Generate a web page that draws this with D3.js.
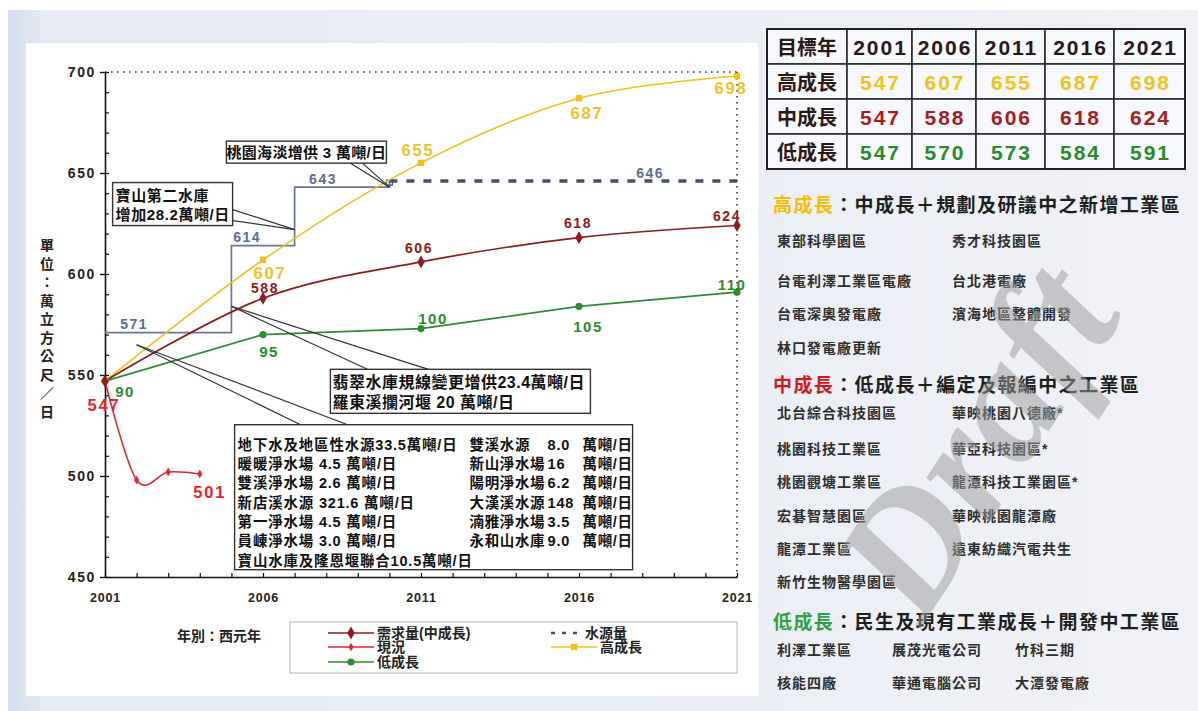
<!DOCTYPE html>
<html>
<head>
<meta charset="utf-8">
<script src="https://cdn.jsdelivr.net/npm/d3@7"></script>
<style>
  html, body { margin: 0; padding: 0; background: #ffffff; }
  svg { display: block; }
</style>
</head>
<body>
<svg id="chart" width="1198" height="711"></svg>
<script>
// ---- data ----
const years = [2001, 2006, 2011, 2016, 2021];
const highGrowth = [547, 607, 655, 687, 698];
const midGrowth = [547, 588, 606, 618, 624];
const lowGrowth = [547, 570, 573, 584, 591];
const lowGrowthTags = ["90", "95", "100", "105", "110"];
const actualYears = [2001, 2002, 2003, 2004];
const actualValues = [547, 498, 502, 501];
const supplyYears = [2001, 2005, 2007, 2010, 2021];
const supplyValues = [571, 614, 643, 646, 646];
const yTicks = [450, 500, 550, 600, 650, 700];
const xTicks = [2001, 2006, 2011, 2016, 2021];

const yTitle = "單位：萬立方公尺／日";
const xTitle = "年別：西元年";
const legendItems = ["需求量(中成長)", "現況", "低成長", "水源量", "高成長"];

const callouts = [
  { tip: [2010, 643], lines: ["桃園海淡增供 3 萬噸/日"] },
  { tip: [2007, 622], lines: ["寶山第二水庫", "增加28.2萬噸/日"] },
  { tip: [2005, 584], lines: ["翡翠水庫規線變更增供23.4萬噸/日", "羅東溪攔河堰 20 萬噸/日"] },
  { tip: [2002, 565], lines: [] }
];
const sourceLeft = [
  "地下水及地區性水源33.5萬噸/日",
  "暖暖淨水場 4.5 萬噸/日",
  "雙溪淨水場 2.6 萬噸/日",
  "新店溪水源 321.6 萬噸/日",
  "第一淨水場 4.5 萬噸/日",
  "員崠淨水場 3.0 萬噸/日",
  "寶山水庫及隆恩堰聯合10.5萬噸/日"
];
const sourceRightNames = ["雙溪水源", "新山淨水場", "陽明淨水場", "大漢溪水源", "湳雅淨水場", "永和山水庫"];
const sourceRightValues = ["8.0", "16", "6.2", "148", "3.5", "9.0"];
const sourceUnit = "萬噸/日";

const tableHead = "目標年";
const scenarioNames = ["高成長", "中成長", "低成長"];

const headingHigh = ["高成長", "：中成長＋規劃及研議中之新增工業區"];
const headingMid = ["中成長", "：低成長＋編定及報編中之工業區"];
const headingLow = ["低成長", "：民生及現有工業成長＋開發中工業區"];
const highItems = [["東部科學園區", "秀才科技園區"], ["台電利澤工業區電廠", "台北港電廠"], ["台電深奧發電廠", "濱海地區整體開發"], ["林口發電廠更新"]];
const midItems = [["北台綜合科技園區", "華映桃園八德廠*"], ["桃園科技工業區", "華亞科技園區*"], ["桃園觀塘工業區", "龍潭科技工業園區*"], ["宏碁智慧園區", "華映桃園龍潭廠"], ["龍潭工業區", "遠東紡織汽電共生"], ["新竹生物醫學園區"]];
const lowItems = [["利澤工業區", "展茂光電公司", "竹科三期"], ["核能四廠", "華通電腦公司", "大潭發電廠"]];
const watermark = "Draft";

// ---- styles ----
const FONT = "'Liberation Sans','Noto Sans CJK TC','Noto Sans CJK SC',sans-serif";
const C = {
  high: "#f0c01c", highText: "#f2c12a",
  mid: "#8e1b1d",
  low: "#2e8b2e",
  actual: "#e8232a",
  supply: "#6a7698", supplyText: "#5d6b92", supplyDash: "#434f6e",
  ink: "#222222"
};

const svg = d3.select("#chart");

// ---- background panels ----
const defs = svg.append("defs");
const bg = defs.append("linearGradient").attr("id", "bgGrad").attr("x1", "0").attr("x2", "1").attr("y1", "0").attr("y2", "0");
bg.append("stop").attr("offset", "0").attr("stop-color", "#d5dfee");
bg.append("stop").attr("offset", "0.03").attr("stop-color", "#e5eaf3");
bg.append("stop").attr("offset", "1").attr("stop-color", "#eff1f6");
svg.append("rect").attr("x", 8).attr("y", 10).attr("width", 1190).attr("height", 701).attr("fill", "url(#bgGrad)");
svg.append("rect").attr("x", 26).attr("y", 43).attr("width", 732).attr("height", 653).attr("fill", "#ffffff");

// ---- scales ----
const x = d3.scaleLinear().domain([2001, 2021]).range([105, 737]);
const y = d3.scaleLinear().domain([450, 700]).range([577, 72]);

// frame: dotted top and right edges
svg.append("line").attr("x1", x(2001)).attr("x2", x(2021)).attr("y1", y(700)).attr("y2", y(700))
  .attr("stroke", "#333").attr("stroke-width", 1.6).attr("stroke-dasharray", "1.6,4.4");
svg.append("line").attr("x1", x(2021)).attr("x2", x(2021)).attr("y1", y(700)).attr("y2", y(450))
  .attr("stroke", "#333").attr("stroke-width", 1.6).attr("stroke-dasharray", "1.6,4.4");

// ---- axes ----
const yAxis = svg.append("g").attr("transform", `translate(${x(2001)},0)`)
  .call(d3.axisLeft(y).tickValues(yTicks).tickSize(5).tickSizeOuter(0).tickPadding(4).tickFormat(d3.format("d")));
yAxis.select(".domain").attr("stroke", "#111").attr("stroke-width", 1.6);
yAxis.selectAll(".tick line").attr("stroke", "#111").attr("stroke-width", 1.4);
yAxis.selectAll(".tick text").attr("font-family", FONT).attr("font-weight", "bold")
  .attr("font-size", 14).attr("letter-spacing", 1.6).attr("fill", C.ink);

const yMinor = svg.append("g").attr("transform", `translate(${x(2001)},0)`)
  .call(d3.axisRight(y).tickValues(d3.range(450, 701, 10)).tickSize(4).tickFormat(""));
yMinor.select(".domain").remove();
yMinor.selectAll(".tick line").attr("stroke", "#111").attr("stroke-width", 1.2);

const xAxis = svg.append("g").attr("transform", `translate(0,${y(450)})`)
  .call(d3.axisBottom(x).tickValues(d3.range(2001, 2022)).tickSizeInner(-4).tickSizeOuter(0).tickPadding(16)
    .tickFormat(d => xTicks.includes(d) ? String(d) : ""));
xAxis.select(".domain").attr("stroke", "#111").attr("stroke-width", 1.6);
xAxis.selectAll(".tick line").attr("stroke", "#111").attr("stroke-width", 1.2);
xAxis.selectAll(".tick text").attr("font-family", FONT).attr("font-weight", "bold")
  .attr("font-size", 12.5).attr("letter-spacing", 0.8).attr("fill", C.ink);

// vertical y title, one glyph per row
svg.append("g").selectAll("text").data(Array.from(yTitle)).join("text")
  .attr("x", 47).attr("y", (d, i) => 245 + i * 18.5)
  .attr("text-anchor", "middle").attr("dominant-baseline", "central")
  .attr("font-family", FONT).attr("font-weight", "bold").attr("font-size", 14).attr("fill", C.ink)
  .text(d => d);

// ---- water supply step line ----
const straight = d3.line().x(d => x(d[0])).y(d => y(d[1]));
const stepped = d3.line().x(d => x(d[0])).y(d => y(d[1])).curve(d3.curveStepAfter);
const supplyPts = supplyYears.map((yr, i) => [yr, supplyValues[i]]);
svg.append("path").attr("d", stepped(supplyPts.slice(0, 4)))
  .attr("fill", "none").attr("stroke", C.supply).attr("stroke-width", 1.7);
svg.append("path").attr("d", straight(supplyPts.slice(3)))
  .attr("fill", "none").attr("stroke", C.supplyDash).attr("stroke-width", 3.5).attr("stroke-dasharray", "8,9");
svg.append("rect").attr("x", x(supplyYears[3]) - 3).attr("y", y(supplyValues[3]) - 1)
  .attr("width", 6).attr("height", 5).attr("fill", "none").attr("stroke", C.supplyDash).attr("stroke-width", 1.2);
// value labels sit above each level, at a fraction along its run
const supplyLabelFrac = [0.23, 0.25, 0.3, 0.75];
svg.append("g").selectAll("text").data(supplyPts.slice(0, 4)).join("text")
  .attr("x", (d, i) => x(d[0] + (supplyPts[i + 1][0] - d[0]) * supplyLabelFrac[i]))
  .attr("y", d => y(d[1]) - 3.5)
  .attr("text-anchor", "middle")
  .attr("font-family", FONT).attr("font-weight", "bold").attr("font-size", 14).attr("letter-spacing", 1.5)
  .attr("fill", C.supplyText).text(d => d[1]);

// ---- demand scenarios ----
const smooth = d3.line().x(d => x(d[0])).y(d => y(d[1])).curve(d3.curveCardinal.tension(0));
const series = [
  { vals: highGrowth, color: C.high, shape: "square", path: smooth },
  { vals: midGrowth, color: C.mid, shape: "diamond", path: smooth },
  { vals: lowGrowth, color: C.low, shape: "circle", path: straight }
];
const actualPts = actualYears.map((yr, i) => [yr, actualValues[i]]);
svg.append("path").attr("d", smooth(actualPts))
  .attr("fill", "none").attr("stroke", C.actual).attr("stroke-width", 1.6);

series.forEach(s => {
  const pts = years.map((yr, i) => [yr, s.vals[i]]);
  svg.append("path").attr("d", s.path(pts))
    .attr("fill", "none").attr("stroke", s.color).attr("stroke-width", s.shape === "square" ? 1.6 : 1.7);
});

function marker(g, shape, color, cx, cy) {
  if (shape === "square") {
    g.append("rect").attr("x", cx - 3.2).attr("y", cy - 3.2).attr("width", 6.4).attr("height", 6.4).attr("fill", color);
  } else if (shape === "circle") {
    g.append("circle").attr("cx", cx).attr("cy", cy).attr("r", 3.6).attr("fill", color);
  } else {
    const size = shape === "diamond" ? 48 : 22;
    g.append("path").attr("transform", `translate(${cx},${cy})`)
      .attr("d", d3.symbol(d3.symbolDiamond, size)()).attr("fill", color);
  }
}
const markers = svg.append("g");
actualPts.forEach(p => marker(markers, "small", C.actual, x(p[0]), y(p[1])));
[2, 0, 1].forEach(k => {
  const s = series[k];
  years.forEach((yr, i) => marker(markers, s.shape, s.color, x(yr), y(s.vals[i])));
});

// value labels
const labels = svg.append("g").attr("font-family", FONT).attr("font-weight", "bold")
  .attr("text-anchor", "middle").attr("dominant-baseline", "central");
const highOff = [null, [7, 13], [-3, -13], [8, 15], [-6, 12]];
const midOff = [null, [2, -10], [-2, -14], [-1, -15], [-10, -10]];
const lowOff = [[20, 10], [6, 17], [12, -10], [9, 20], [-5, -8]];
years.forEach((yr, i) => {
  if (highOff[i]) labels.append("text").attr("x", x(yr) + highOff[i][0]).attr("y", y(highGrowth[i]) + highOff[i][1])
    .attr("font-size", 16.5).attr("letter-spacing", 1.8).attr("fill", C.highText).text(highGrowth[i]);
  if (midOff[i]) labels.append("text").attr("x", x(yr) + midOff[i][0]).attr("y", y(midGrowth[i]) + midOff[i][1])
    .attr("font-size", 14).attr("letter-spacing", 1.5).attr("fill", C.mid).text(midGrowth[i]);
  labels.append("text").attr("x", x(yr) + lowOff[i][0]).attr("y", y(lowGrowth[i]) + lowOff[i][1])
    .attr("font-size", 15).attr("letter-spacing", 1.5).attr("fill", C.low).text(lowGrowthTags[i]);
});
const actualOff = [[-1, 24], null, null, [10, 18]];
actualPts.forEach((p, i) => {
  if (actualOff[i]) labels.append("text").attr("x", x(p[0]) + actualOff[i][0]).attr("y", y(p[1]) + actualOff[i][1])
    .attr("font-size", 16.5).attr("letter-spacing", 1.8).attr("fill", C.actual).text(p[1]);
});

// ---- callout boxes ----
// box geometry relative to the pointed-at spot: [dx, dy, w, h], wedge base points
const calloutLayout = [
  { box: [-163, -46, 160, 22], base: [[-39, -24], [-27, -24]] },
  { box: [-182, -47, 120, 43], base: [[-62, -20], [-62, -9]] },
  { box: [99, 63, 260, 44], base: [[136, 63], [197, 63]] },
  { box: [98, 80, 398, 145], base: [[164, 80], [211, 80]] }
];
const notes = svg.append("g");
callouts.forEach((c, i) => {
  const tx = x(c.tip[0]), ty = y(c.tip[1]);
  const L = calloutLayout[i];
  L.base.forEach(b => notes.append("line").attr("x1", tx).attr("y1", ty).attr("x2", tx + b[0]).attr("y2", ty + b[1])
    .attr("stroke", "#333").attr("stroke-width", 1.2));
  const bx = tx + L.box[0], by = ty + L.box[1];
  notes.append("rect").attr("x", bx).attr("y", by).attr("width", L.box[2]).attr("height", L.box[3])
    .attr("fill", "#fff").attr("stroke", "#333").attr("stroke-width", 1.4);
  c.box = [bx, by, L.box[2], L.box[3]];
});
const noteText = notes.append("g").attr("font-family", FONT).attr("font-weight", "bold")
  .attr("fill", "#111").attr("dominant-baseline", "central");
{
  const b = callouts[0].box;
  noteText.append("text").attr("x", b[0] + b[2] / 2).attr("y", b[1] + b[3] / 2).attr("text-anchor", "middle")
    .attr("font-size", 15).attr("letter-spacing", 0.3).text(callouts[0].lines[0]);
}
{
  const b = callouts[1].box;
  callouts[1].lines.forEach((t, j) => noteText.append("text").attr("x", b[0] + 3).attr("y", b[1] + 13 + j * 19)
    .attr("font-size", 15).attr("letter-spacing", 0.6).text(t));
}
{
  const b = callouts[2].box;
  callouts[2].lines.forEach((t, j) => noteText.append("text").attr("x", b[0] + 2).attr("y", b[1] + 13 + j * 20)
    .attr("font-size", 16).attr("letter-spacing", 0.5).text(t));
}
{
  const b = callouts[3].box;
  sourceLeft.forEach((t, j) => noteText.append("text").attr("x", b[0] + 3).attr("y", b[1] + 20 + j * 19.3)
    .attr("font-size", 14.5).attr("letter-spacing", 0.8).text(t));
  sourceRightNames.forEach((t, j) => {
    const yy = b[1] + 20 + j * 19.3;
    noteText.append("text").attr("x", b[0] + 235).attr("y", yy).attr("font-size", 14.5).attr("letter-spacing", 0.6).text(t);
    noteText.append("text").attr("x", b[0] + 313).attr("y", yy).attr("font-size", 14.5).attr("letter-spacing", 0.8).text(sourceRightValues[j]);
    noteText.append("text").attr("x", b[0] + 348).attr("y", yy).attr("font-size", 14.5).attr("letter-spacing", 0.6).text(sourceUnit);
  });
}

// ---- legend ----
svg.append("text").attr("x", 177).attr("y", 636).attr("dominant-baseline", "central")
  .attr("font-family", FONT).attr("font-weight", "bold").attr("font-size", 14).attr("fill", C.ink).text(xTitle);
const lg = svg.append("g");
lg.append("rect").attr("x", 290).attr("y", 622).attr("width", 447).attr("height", 51)
  .attr("fill", "#fff").attr("stroke", "#b5b5b5").attr("stroke-width", 1);
const legendSpec = [
  { x: 328, w: 46, y: 633, color: C.mid, shape: "diamond" },
  { x: 328, w: 46, y: 647, color: C.actual, shape: "small" },
  { x: 328, w: 46, y: 662, color: C.low, shape: "circle" },
  { x: 551, w: 29, y: 633, color: C.supplyDash, dash: true },
  { x: 551, w: 46, y: 647, color: C.high, shape: "square" }
];
legendSpec.forEach((s, i) => {
  const l = lg.append("line").attr("x1", s.x).attr("x2", s.x + s.w).attr("y1", s.y).attr("y2", s.y)
    .attr("stroke", s.color).attr("stroke-width", s.dash ? 2.5 : 1.7);
  if (s.dash) l.attr("stroke-dasharray", "4,7");
  else marker(lg, s.shape, s.color, s.x + s.w / 2, s.y);
  lg.append("text").attr("x", s.x + s.w + (i === 3 ? 5 : 3)).attr("y", s.y).attr("dominant-baseline", "central")
    .attr("font-family", FONT).attr("font-weight", "bold").attr("font-size", 14).attr("fill", C.ink)
    .text(legendItems[i]);
});

// ---- target-year table ----
const colX = [767, 847, 912, 976, 1045, 1114, 1185];
const rowY = [29, 64, 99, 134, 169];
const tbl = svg.append("g");
const rows = [
  { head: tableHead, vals: years, color: "#2a1818" },
  { head: scenarioNames[0], vals: highGrowth, color: "#f4c21c" },
  { head: scenarioNames[1], vals: midGrowth, color: "#a51d22" },
  { head: scenarioNames[2], vals: lowGrowth, color: "#2b8a2f" }
];
rows.forEach((r, ri) => {
  const cells = [r.head, ...r.vals];
  cells.forEach((v, ci) => {
    tbl.append("rect").attr("x", colX[ci]).attr("y", rowY[ri])
      .attr("width", colX[ci + 1] - colX[ci]).attr("height", rowY[ri + 1] - rowY[ri])
      .attr("fill", "#f7f8fb").attr("stroke", "#2b2b2b").attr("stroke-width", 1.6);
    tbl.append("text").attr("x", (colX[ci] + colX[ci + 1]) / 2 + (ci === 0 ? 0 : 1)).attr("y", (rowY[ri] + rowY[ri + 1]) / 2 + 1)
      .attr("text-anchor", "middle").attr("dominant-baseline", "central")
      .attr("font-family", FONT).attr("font-weight", "bold")
      .attr("font-size", ci === 0 ? 20 : 21).attr("letter-spacing", ci === 0 ? 0 : 2)
      .attr("fill", ci === 0 ? "#2a1818" : r.color).text(v);
  });
});
tbl.append("rect").attr("x", colX[0]).attr("y", rowY[0]).attr("width", colX[6] - colX[0]).attr("height", rowY[4] - rowY[0])
  .attr("fill", "none").attr("stroke", "#222").attr("stroke-width", 2);

// ---- scenario descriptions ----
const desc = svg.append("g").attr("font-family", FONT).attr("font-weight", "bold").attr("dominant-baseline", "central");
function heading(parts, color, yy) {
  const t = desc.append("text").attr("x", 773).attr("y", yy).attr("font-size", 19).attr("letter-spacing", 1.4);
  t.append("tspan").attr("fill", color).text(parts[0]);
  t.append("tspan").attr("fill", "#1e1e1e").text(parts[1]);
}
function items(list, rowsY, colsX) {
  list.forEach((row, ri) => row.forEach((t, ci) => desc.append("text")
    .attr("x", colsX[ci]).attr("y", rowsY[ri]).attr("font-size", 14).attr("letter-spacing", 1)
    .attr("fill", "#2e2e2e").text(t)));
}
heading(headingHigh, "#f6be00", 205);
items(highItems, [241, 281, 314, 348], [777, 952]);
heading(headingMid, "#d5181f", 385);
items(midItems, [413, 449, 482, 516, 549, 582], [777, 952]);
heading(headingLow, "#2ea043", 622);
items(lowItems, [650, 683], [777, 892, 1015]);

// ---- watermark ----
svg.append("text").attr("transform", "translate(975,440) rotate(-57)")
  .attr("text-anchor", "middle").attr("dominant-baseline", "central")
  .attr("font-family", "'Liberation Serif','DejaVu Serif',serif").attr("font-style", "italic").attr("font-weight", "bold")
  .attr("font-size", 168).attr("fill", "#999999").attr("fill-opacity", 0.5)
  .text(watermark);
</script>
</body>
</html>
